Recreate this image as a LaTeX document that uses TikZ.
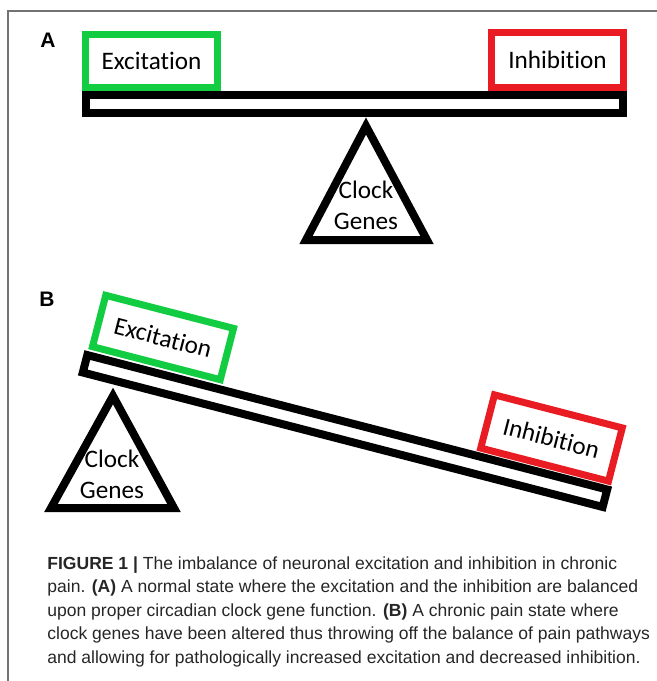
\documentclass[tikz,border=0pt]{standalone}
\usepackage{fontspec}
\setmainfont{Liberation Sans}
\newfontfamily\boxfont[Ligatures={NoCommon,NoContextual}]{Carlito}
\definecolor{excgreen}{RGB}{18,204,66}
\definecolor{inhred}{RGB}{233,28,36}
\tikzset{
  exbox/.style  ={draw=excgreen, line width=3.5pt, fill=white, minimum width=66pt, minimum height=26.5pt, inner sep=0pt, outer sep=0pt, font=\boxfont\fontsize{12.6}{15.5}\selectfont},
  inbox/.style  ={exbox, draw=inhred, minimum height=27.5pt},
  beam/.style   ={draw, line width=4pt, fill=white, minimum width=268.5pt, minimum height=9pt, inner sep=0pt, outer sep=0pt},
  fulcrum/.style={draw, line width=4pt, line join=miter, fill=white},
  genes/.style  ={font=\boxfont\fontsize{12.6}{15.5}\selectfont, align=center, inner sep=0pt},
  panel/.style  ={font=\bfseries\fontsize{10.5}{12}\selectfont, inner sep=0pt},
  frame/.style  ={draw=black!55, line width=0.6pt},
  capt/.style   ={font=\fontsize{8.76}{11.75}\selectfont, text=black!85, align=left, inner sep=0pt, anchor=north west},
}

\begin{document}
\begin{tikzpicture}[x=0.5pt, y=-0.5pt]
  \useasboundingbox (0,0) rectangle (657,681);
  \draw[frame] (657,11) -- (8,11) -- (8,681);

  % (A) balanced
  \node[panel] (labA) at (48,40) {A};
  \coordinate (topA) at (366,126);
  \coordinate (leftA) at (306,240);
  \coordinate (rightA) at (427,240);
  \draw[fulcrum] (topA) -- (leftA) -- (rightA) -- cycle;
  \node[genes] (genesA) at (366,205.5) {Clock\\Genes};
  \node[beam] (beamA) at (354.5,104) {};
  \node[exbox] (excA) at (151.5,61) {Excitation};
  \node[inbox] (inhA) at (557.5,60) {Inhibition};

  % (B) tilted
  \node[panel] (labB) at (47,299) {B};
  \coordinate (topB) at (113,396);
  \coordinate (leftB) at (51,508);
  \coordinate (rightB) at (174,508);
  \draw[fulcrum] (topB) -- (leftB) -- (rightB) -- cycle;
  \node[genes] (genesB) at (112,474.5) {Clock\\Genes};
  \node[beam, rotate=-14.5] (beamB) at (345,431) {};
  \node[exbox, rotate=-14.5] (excB) at (163,337.5) {Excitation};
  \node[inbox, rotate=-14.5] (inhB) at (551.5,438) {Inhibition};

  % caption
  \node[capt] (capt) at (47,556) {\textbf{FIGURE 1 |} The imbalance of neuronal excitation and inhibition in chronic\\
    pain. \textbf{(A)} A normal state where the excitation and the inhibition are balanced\\
    upon proper circadian clock gene function. \textbf{(B)} A chronic pain state where\\
    clock genes have been altered thus throwing off the balance of pain pathways\\
    and allowing for pathologically increased excitation and decreased inhibition.};
\end{tikzpicture}
\end{document}
